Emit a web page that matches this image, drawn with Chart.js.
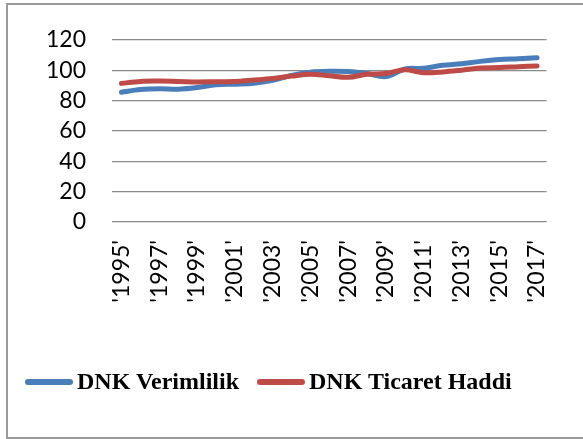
<!DOCTYPE html>
<html>
<head>
<meta charset="utf-8">
<script src="https://cdn.jsdelivr.net/npm/chart.js@4/dist/chart.umd.min.js"></script>
<style>
  body { margin: 0; background: #fff; }
  #wrap { position: relative; width: 583px; height: 439px; overflow: hidden; }
  #frame {
    position: absolute; left: 6px; top: 3px; width: 620px; height: 436px;
    border-top: 2px solid #9a9a9a; border-left: 2px solid #9a9a9a; border-bottom: 2px solid #9a9a9a;
    box-sizing: border-box;
  }
  #chart { position: absolute; left: 0; top: 0; }
  #legend {
    position: absolute; left: 25px; top: 368px; display: flex; align-items: center;
    font-family: "Liberation Serif", serif; font-weight: bold; font-size: 24px; color: #000;
  }
  .item { display: flex; align-items: center; margin-right: 18px; }
  .swatch { width: 48px; height: 6px; border-radius: 3px; margin-right: 4px; }
</style>
</head>
<body>
<div id="wrap">
  <div id="frame"></div>
  <canvas id="chart" width="583" height="439"></canvas>
  <div id="legend"></div>
</div>
<script>
// years 1995..2017
const years = ["'1995'", "'1996'", "'1997'", "'1998'", "'1999'", "'2000'", "'2001'", "'2002'",
  "'2003'", "'2004'", "'2005'", "'2006'", "'2007'", "'2008'", "'2009'", "'2010'", "'2011'",
  "'2012'", "'2013'", "'2014'", "'2015'", "'2016'", "'2017'"];

const verimlilik = [85.4, 87.2, 87.7, 87.5, 88.6, 90.4, 90.8, 91.3, 93.3, 96.6, 98.7, 99.3, 99.1,
  97.8, 95.8, 100.8, 101.2, 103.2, 104.2, 105.8, 107.0, 107.5, 108.2];
const ticaretHaddi = [91.3, 92.6, 92.8, 92.6, 92.2, 92.4, 92.5, 93.5, 94.6, 96.1, 97.3, 96.3, 95.3,
  97.3, 97.8, 100.3, 98.3, 98.8, 100.0, 101.4, 101.7, 102.3, 102.8];

const yTicks = [0, 20, 40, 60, 80, 100, 120];

const blue = '#4a7ebb';
const red = '#be4b48';
const tickFont = { family: 'Lato, "Open Sans", sans-serif', size: 23 };

const ctx = document.getElementById('chart').getContext('2d');
const chart = new Chart(ctx, {
  type: 'line',
  data: {
    labels: years,
    datasets: [
      {
        label: 'DNK Verimlilik',
        data: verimlilik,
        borderColor: blue,
        backgroundColor: blue,
        borderWidth: 5,
        tension: 0.35,
        pointRadius: 0,
        borderCapStyle: 'round',
        borderJoinStyle: 'round',
        order: 2
      },
      {
        label: 'DNK Ticaret Haddi',
        data: ticaretHaddi,
        borderColor: red,
        backgroundColor: red,
        borderWidth: 5,
        tension: 0.35,
        pointRadius: 0,
        borderCapStyle: 'round',
        borderJoinStyle: 'round',
        order: 1
      }
    ]
  },
  options: {
    responsive: false,
    animation: false,
    layout: { padding: { top: 38, left: 0, right: 15, bottom: 117 } },
    plugins: {
      legend: { display: false },
      tooltip: { enabled: false }
    },
    scales: {
      x: {
        offset: true,
        grid: { display: false, drawTicks: false },
        border: { display: false },
        ticks: {
          autoSkip: false,
          maxRotation: 90,
          minRotation: 90,
          padding: 18,
          color: '#000',
          font: tickFont,
          callback: function (value, index) {
            return index % 2 === 0 ? years[index] : '';
          }
        },
        afterFit: function (scale) { scale.height = 100; }
      },
      y: {
        min: 0,
        max: 120,
        afterBuildTicks: function (scale) {
          scale.ticks = yTicks.map(v => ({ value: v }));
        },
        grid: { color: '#8a8a8a', lineWidth: 1.3, drawTicks: false },
        border: { display: false },
        ticks: { autoSkip: false, padding: 26, color: '#000', font: tickFont },
        afterFit: function (scale) { scale.width = 112; }
      }
    }
  }
});

// legend built from the datasets
const legend = document.getElementById('legend');
chart.data.datasets.forEach(ds => {
  const item = document.createElement('div');
  item.className = 'item';
  const sw = document.createElement('span');
  sw.className = 'swatch';
  sw.style.background = ds.borderColor;
  const txt = document.createElement('span');
  txt.textContent = ds.label;
  item.appendChild(sw);
  item.appendChild(txt);
  legend.appendChild(item);
});
</script>
</body>
</html>
